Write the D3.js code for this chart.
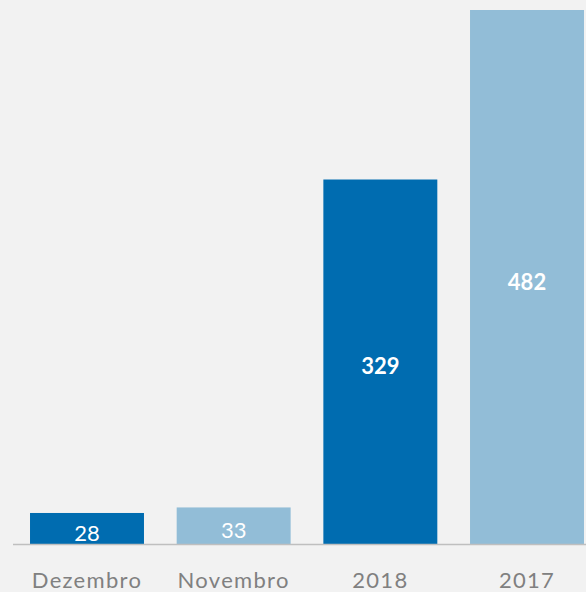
<!DOCTYPE html>
<html><head><meta charset="utf-8">
<script src="https://cdn.jsdelivr.net/npm/d3@7"></script>
<style>html,body{margin:0;padding:0;background:#f2f2f2;overflow:hidden}</style>
</head><body>
<svg id="c" width="586" height="592"></svg>
<script>
const categories = ["Dezembro", "Novembro", "2018", "2017"];
const values = [28, 33, 329, 482];
const boldLabels = [false, false, true, true];
const colors = ["#006cb0", "#92bdd7", "#006cb0", "#92bdd7"];

const svg = d3.select("#c");
svg.append("rect").attr("width", 586).attr("height", 592).attr("fill", "#f2f2f2");

const x = d3.scaleBand().domain(categories).range([13, 601]).paddingInner(0.223).paddingOuter(0.116);
const y = d3.scaleLinear().domain([0, 482]).range([544, 10]);

svg.selectAll("rect.bar").data(values).enter().append("rect")
  .attr("class", "bar")
  .attr("x", (d, i) => x(categories[i]))
  .attr("width", x.bandwidth())
  .attr("y", d => y(d))
  .attr("height", d => y(0) - y(d))
  .attr("fill", (d, i) => colors[i]);

svg.append("line").attr("x1", 13).attr("x2", 586).attr("y1", y(0) + 0.5).attr("y2", y(0) + 0.5)
  .attr("stroke", "#bfbfbf").attr("stroke-width", 1.5);

svg.selectAll("text.val").data(values).enter().append("text")
  .attr("class", "val")
  .attr("x", (d, i) => x(categories[i]) + x.bandwidth() / 2)
  .attr("y", d => (y(d) + y(0)) / 2 + 4)
  .attr("dominant-baseline", "central")
  .attr("text-anchor", "middle")
  .attr("font-family", "Lato, 'Open Sans', sans-serif")
  .attr("font-size", 22)
  .attr("font-weight", (d, i) => boldLabels[i] ? "bold" : "normal")
  .attr("fill", "#ffffff")
  .text(d => d);

svg.selectAll("text.cat").data(categories).enter().append("text")
  .attr("class", "cat")
  .attr("x", d => x(d) + x.bandwidth() / 2)
  .attr("y", 588)
  .attr("text-anchor", "middle")
  .attr("font-family", "Lato, 'Open Sans', sans-serif")
  .attr("font-size", 22)
  .attr("letter-spacing", 1.3)
  .attr("fill", "#808080")
  .text(d => d);
</script>
</body></html>
